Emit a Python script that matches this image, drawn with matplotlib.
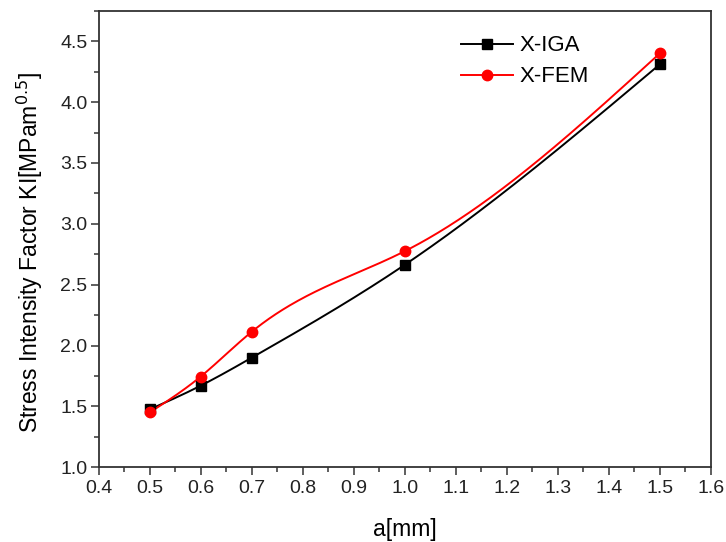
import numpy as np
import matplotlib
matplotlib.use("Agg")
import matplotlib.pyplot as plt
from matplotlib.ticker import MultipleLocator

plt.rcParams["font.family"] = ["Liberation Sans", "DejaVu Sans"]

# ── Data ─────────────────────────────────────────────────────
a_mm = [0.5, 0.6, 0.7, 1.0, 1.5]
ki_xiga = [1.475, 1.67, 1.90, 2.663, 4.31]
ki_xfem = [1.45, 1.745, 2.113, 2.775, 4.40]


def natural_spline(x, y, n=300):
    """Natural cubic spline through (x, y), sampled for drawing."""
    x = np.asarray(x, float)
    y = np.asarray(y, float)
    k = len(x)
    h = np.diff(x)
    A = np.zeros((k, k))
    r = np.zeros(k)
    A[0, 0] = A[-1, -1] = 1.0
    for i in range(1, k - 1):
        A[i, i - 1] = h[i - 1]
        A[i, i] = 2 * (h[i - 1] + h[i])
        A[i, i + 1] = h[i]
        r[i] = 3 * ((y[i + 1] - y[i]) / h[i] - (y[i] - y[i - 1]) / h[i - 1])
    c = np.linalg.solve(A, r)
    b = (y[1:] - y[:-1]) / h - h * (2 * c[:-1] + c[1:]) / 3
    d = (c[1:] - c[:-1]) / (3 * h)
    xs = np.linspace(x[0], x[-1], n)
    idx = np.clip(np.searchsorted(x, xs) - 1, 0, k - 2)
    dx = xs - x[idx]
    ys = y[idx] + b[idx] * dx + c[idx] * dx ** 2 + d[idx] * dx ** 3
    return xs, ys


# ── Plot ─────────────────────────────────────────────────────
fig = plt.figure(figsize=(7.26, 5.42), dpi=100)
ax = fig.add_axes([0.136, 0.138, 0.843, 0.842])

xs, ys = natural_spline(a_mm, ki_xiga)
ax.plot(xs, ys, color="black", linewidth=1.4)
xs, ys = natural_spline(a_mm, ki_xfem)
ax.plot(xs, ys, color="red", linewidth=1.4)

ax.plot(a_mm, ki_xiga, "s", color="black", markersize=6.5)
ax.plot(a_mm, ki_xfem, "o", color="red", markersize=7.5)

# legend proxies
ax.plot([], [], "-s", color="black", markersize=6.5, linewidth=1.4, label="X-IGA")
ax.plot([], [], "-o", color="red", markersize=7.5, linewidth=1.4, label="X-FEM")
handles, labels = ax.get_legend_handles_labels()
ax.legend(handles[-2:], labels[-2:], loc="upper left", bbox_to_anchor=(0.56, 0.99),
          frameon=False, fontsize=16, handlelength=2.3, handletextpad=0.3,
          labelspacing=0.45)

ax.set_xlim(0.4, 1.6)
ax.set_ylim(1.0, 4.75)
ax.xaxis.set_major_locator(MultipleLocator(0.1))
ax.xaxis.set_minor_locator(MultipleLocator(0.05))
ax.yaxis.set_major_locator(MultipleLocator(0.5))
ax.yaxis.set_minor_locator(MultipleLocator(0.25))
ax.xaxis.set_major_formatter(plt.FuncFormatter(lambda v, p: f"{v:.1f}"))
ax.yaxis.set_major_formatter(plt.FuncFormatter(lambda v, p: f"{v:.1f}"))

ax.tick_params(which="both", direction="out", top=False, right=False,
               color="#333333", width=1.1)
ax.tick_params(which="major", length=6, labelsize=14, labelcolor="#222222")
ax.tick_params(which="minor", length=3.5)
ax.tick_params(axis="y", which="major", pad=2)
for s in ax.spines.values():
    s.set_color("#333333")
    s.set_linewidth(1.3)

ax.set_xlabel("a[mm]", fontsize=16.5, labelpad=15)
ax.set_ylabel("Stress Intensity Factor KI[MPam$^{0.5}$]", fontsize=16.5)
ax.yaxis.set_label_coords(-0.087, 0.47)

fig.savefig("out.png", dpi=100)
plt.close(fig)
